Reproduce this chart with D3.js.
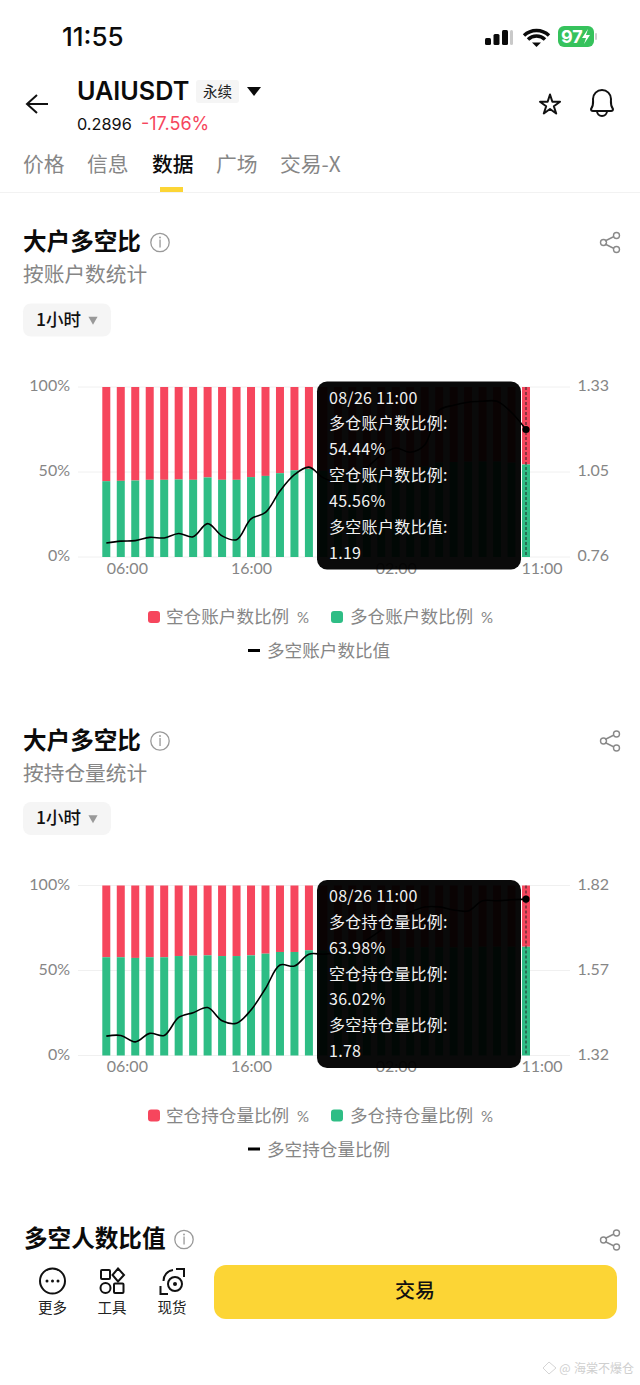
<!DOCTYPE html>
<html>
<head>
<meta charset="utf-8">
<script src="https://cdnjs.cloudflare.com/ajax/libs/d3/7.9.0/d3.min.js"></script>
<style>
html, body { margin: 0; padding: 0; background: #fff; }
svg { display: block; }
text { font-family: "Noto Sans CJK SC", "Noto Sans", sans-serif; }
</style>
</head>
<body>
<svg id="page" width="640" height="1385"></svg>
<script>
// x axis, one bar per hour
var hours = ["06:00","07:00","08:00","09:00","10:00","11:00","12:00","13:00","14:00","15:00",
  "16:00","17:00","18:00","19:00","20:00","21:00","22:00","23:00","00:00","01:00",
  "02:00","03:00","04:00","05:00","06:00 ","07:00 ","08:00 ","09:00 ","10:00 ","11:00 "];
var tickLabels = ["06:00","16:00","02:00","11:00 "];

// chart 1, by accounts
var accountLong = [44.6,44.8,45,45.4,45.4,45.6,45.4,46.8,45.4,45.4,47,47.7,49.3,51,51.9,
  50.7,50.4,50.6,51.6,52.5,53,52.7,53.2,55.6,55.9,56.1,56.2,56.2,55.5,54.44];
var accountRatio = [0.808,0.814,0.816,0.827,0.825,0.84,0.829,0.874,0.832,0.819,0.89,0.912,0.985,1.041,1.066,
  1.03,1.015,1.025,1.065,1.105,1.129,1.115,1.139,1.253,1.27,1.28,1.283,1.283,1.246,1.19];
var accountLegend = ["空仓账户数比例","多仓账户数比例","多空账户数比值"];
var accountTip = ["08/26 11:00","多仓账户数比例:","54.44%","空仓账户数比例:","45.56%","多空账户数比值:","1.19"];

// chart 2, by position size
var positionLong = [57.8,57.8,57.4,57.8,57.8,58.5,58.7,58.9,58.5,58.5,58.9,59.9,60.9,60.9,61.9,
  61.8,61.9,62.1,62.4,62.8,63.2,63.5,63.7,63.7,63.6,63.6,64,64,64,63.98];
var positionRatio = [1.377,1.379,1.36,1.385,1.379,1.432,1.446,1.461,1.422,1.415,1.454,1.517,1.586,1.583,1.618,
  1.618,1.622,1.636,1.66,1.689,1.719,1.742,1.757,1.757,1.748,1.745,1.775,1.775,1.778,1.78];
var positionLegend = ["空仓持仓量比例","多仓持仓量比例","多空持仓量比例"];
var positionTip = ["08/26 11:00","多仓持仓量比例:","63.98%","空仓持仓量比例:","36.02%","多空持仓量比例:","1.78"];

var svg = d3.select("#page");
var red = "#f6465d", green = "#2ebd85", grey = "#868686", ink = "#0b0b0b";

function label(parent, x, y, str, size, fill, weight, anchor) {
  return parent.append("text").attr("x", x).attr("y", y).text(str)
    .attr("font-size", size).attr("fill", fill)
    .attr("font-weight", weight || 400)
    .attr("text-anchor", anchor || "start");
}

function infoIcon(x, y) {
  var g = svg.append("g").attr("transform", "translate(" + x + "," + y + ")");
  g.append("circle").attr("r", 9.2).attr("fill", "none").attr("stroke", "#999").attr("stroke-width", 1.3);
  g.append("rect").attr("x", -0.6).attr("y", -3).attr("width", 1.3).attr("height", 8).attr("fill", "#999");
  g.append("circle").attr("cy", -5).attr("r", 0.9).attr("fill", "#999");
}

function shareIcon(x, y) {
  var g = svg.append("g").attr("transform", "translate(" + x + "," + y + ")")
    .attr("fill", "none").attr("stroke", "#8a8a8a").attr("stroke-width", 1.4);
  g.append("path").attr("d", "M-5,-1.5L4,-6M-5,1.5L4,6");
  g.append("circle").attr("cx", -6.5).attr("r", 3);
  g.append("circle").attr("cx", 6.5).attr("cy", -7).attr("r", 3);
  g.append("circle").attr("cx", 6.5).attr("cy", 7).attr("r", 3);
}

function section(top, sub) {
  label(svg, 23, top + 7.5, "大户多空比", 23.6, ink, 700);
  infoIcon(160, top);
  label(svg, 23, top + 39.5, sub, 20.7, grey);
  shareIcon(610, top);
  svg.append("rect").attr("x", 23).attr("y", top + 61).attr("width", 88).attr("height", 33).attr("rx", 8).attr("fill", "#f5f5f5");
  label(svg, 36, top + 83, "1小时", 17.5, "#111", 500);
  svg.append("path").attr("d", d3.symbol().type(d3.symbolTriangle).size(36)).attr("fill", "#999")
    .attr("transform", "translate(93," + (top + 77) + ") rotate(180)");
}

function drawChart(top, longVals, ratioVals, ratioTicks, legend, tip) {
  var g = svg.append("g").attr("transform", "translate(0," + top + ")");
  var height = 170;
  var x = d3.scalePoint().domain(hours.map(function (d, i) { return i; })).range([106.3, 526]);
  var y = d3.scaleLinear().domain([0, 100]).range([height, 0]);
  var yRatio = d3.scaleLinear().domain(ratioTicks).range([height, height / 2, 0]);
  var barW = 8;

  // grid
  g.selectAll(".grid").data([0, 50, 100]).enter().append("line")
    .attr("x1", 78).attr("x2", 570)
    .attr("y1", function (d) { return y(d); }).attr("y2", function (d) { return y(d); })
    .attr("stroke", "#f0f0f0");

  // bars
  g.selectAll(".short").data(longVals).enter().append("rect")
    .attr("x", function (d, i) { return x(i) - barW / 2; })
    .attr("y", y(100)).attr("width", barW)
    .attr("height", function (d) { return y(d) - y(100); })
    .attr("fill", red);
  g.selectAll(".long").data(longVals).enter().append("rect")
    .attr("x", function (d, i) { return x(i) - barW / 2; })
    .attr("y", function (d) { return y(d); }).attr("width", barW)
    .attr("height", function (d) { return height - y(d); })
    .attr("fill", green);

  // axes
  var left = d3.axisLeft(y).tickValues([0, 50, 100]).tickSize(0).tickPadding(0).tickFormat(function (d) { return d + "%"; });
  var leftG = g.append("g").attr("transform", "translate(70,-1.5)").call(left);
  var right = d3.axisRight(yRatio).tickValues(ratioTicks).tickSize(0).tickPadding(0).tickFormat(d3.format(".2f"));
  var rightG = g.append("g").attr("transform", "translate(577.5,-1.5)").call(right);
  var bottom = d3.axisBottom(x).tickSize(0).tickPadding(0)
    .tickValues(tickLabels.map(function (t) { return hours.indexOf(t); }))
    .tickFormat(function (i) { return hours[i].trim(); });
  var bottomG = g.append("g").attr("transform", "translate(0," + (height + 5.5) + ")").call(bottom);
  [leftG, rightG, bottomG].forEach(function (a) {
    a.select(".domain").remove();
    a.selectAll("text").attr("font-size", 16).attr("fill", grey)
      .style("font-family", "Lato, 'Noto Sans', sans-serif");
  });
  // first and last time labels sit inside the plot edges
  bottomG.selectAll("text").filter(function (d) { return d === 0; }).attr("text-anchor", "start");
  bottomG.selectAll("text").filter(function (d) { return d === 29; }).attr("text-anchor", "start").attr("x", -5);

  // ratio line
  var line = d3.line()
    .x(function (d, i) { return x(i); })
    .y(function (d) { return yRatio(d); })
    .curve(d3.curveCatmullRom.alpha(0.5));
  g.append("path").datum(ratioVals).attr("d", line)
    .attr("fill", "none").attr("stroke", "#000").attr("stroke-width", 1.6);

  // crosshair on last bar
  var lastX = x(ratioVals.length - 1);
  g.append("line").attr("x1", lastX).attr("x2", lastX).attr("y1", 0).attr("y2", height)
    .attr("stroke", "#222").attr("stroke-width", 1).attr("stroke-dasharray", "3,2");
  g.append("circle").attr("cx", lastX).attr("cy", yRatio(ratioVals[ratioVals.length - 1]))
    .attr("r", 3.6).attr("fill", "#000");

  // tooltip
  var t = g.append("g").attr("transform", "translate(317,-5.5)");
  t.append("rect").attr("width", 204).attr("height", 188).attr("rx", 10)
    .attr("fill", "#000").attr("fill-opacity", 0.96);
  tip.forEach(function (s, i) {
    label(t, 12, 22 + i * 25.85, s, 16, "#f2f2f2").style("letter-spacing", "0.3px");
  });

  // legend
  var ly = height + 60;
  g.append("rect").attr("x", 148).attr("y", ly - 6).attr("width", 12).attr("height", 12).attr("rx", 3).attr("fill", red);
  label(g, 166, ly + 6, legend[0], 17.6, grey);
  label(g, 297, ly + 6, "%", 15, grey).style("font-family", "Lato, sans-serif");
  g.append("rect").attr("x", 331).attr("y", ly - 6).attr("width", 12).attr("height", 12).attr("rx", 3).attr("fill", green);
  label(g, 350, ly + 6, legend[1], 17.6, grey);
  label(g, 481, ly + 6, "%", 15, grey).style("font-family", "Lato, sans-serif");
  g.append("rect").attr("x", 248).attr("y", ly + 32).attr("width", 12).attr("height", 3).attr("fill", "#000");
  label(g, 267, ly + 40, legend[2], 17.6, grey);
}

// status bar
label(svg, 62, 46, "11:55", 26, ink, 500).style("font-family", "Inter, sans-serif");
[[485,7],[493.5,11],[502,15]].forEach(function (b) {
  svg.append("rect").attr("x", b[0]).attr("y", 45 - b[1]).attr("width", 6).attr("height", b[1]).attr("rx", 1.5).attr("fill", ink);
});
svg.append("rect").attr("x", 510).attr("y", 30).attr("width", 3).attr("height", 15).attr("rx", 1.5).attr("fill", "#c9c9c9");
svg.append("path").attr("d", "M524,35.5A18,18 0 0 1 549,35.5M528,39.5A12,12 0 0 1 545,39.5")
  .attr("fill", "none").attr("stroke", ink).attr("stroke-width", 3.4);
svg.append("path").attr("d", "M532,42.5L541,42.5L536.5,47Z").attr("fill", ink);
svg.append("rect").attr("x", 558).attr("y", 26).attr("width", 36).attr("height", 21).attr("rx", 6).attr("fill", "#36c25c");
label(svg, 561, 43, "97", 18, "#fff", 700).style("font-family", "Inter, sans-serif");
svg.append("path").attr("d", "M588,29L582,38L586,38L584,44L590,35L586,35Z").attr("fill", "#fff");
svg.append("rect").attr("x", 595).attr("y", 33).attr("width", 2).attr("height", 7).attr("rx", 1).attr("fill", "#cfcfcf");

// header
svg.append("path").attr("d", "M48,104H27M37,95L27,104L37,113").attr("fill", "none").attr("stroke", "#111").attr("stroke-width", 2);
label(svg, 77, 100, "UAIUSDT", 25.2, ink, 600).style("font-family", "Inter, sans-serif");
svg.append("rect").attr("x", 196).attr("y", 80).attr("width", 43).attr("height", 23).attr("rx", 3).attr("fill", "#f5f5f5");
label(svg, 203, 97, "永续", 14.5, "#222");
svg.append("path").attr("d", "M247,87H261L254,96Z").attr("fill", ink);
label(svg, 77, 130, "0.2896", 16.3, "#111").style("font-family", "Inter, sans-serif");
label(svg, 141, 130, "-17.56%", 18, red).style("font-family", "Inter, sans-serif");
svg.append("path").attr("d", d3.symbol().type(d3.symbolStar).size(125)).attr("fill", "none")
  .attr("stroke", "#111").attr("stroke-width", 2).attr("stroke-linejoin", "round").attr("transform", "translate(550,105)");
svg.append("path").attr("d", "M591,109C594,105 593,102 593,99A9,9 0 0 1 611,99C611,102 610,105 613,109C613,111 612,111 611,111H593C592,111 591,111 591,109ZM597,111A5,5 0 0 0 607,111")
  .attr("fill", "none").attr("stroke", "#111").attr("stroke-width", 2);

// tabs
var tabs = ["价格","信息","数据","广场","交易-X"];
var tabX = [23, 87, 152, 216, 280];
tabs.forEach(function (s, i) {
  label(svg, tabX[i], 172, s, 20.8, i === 2 ? ink : grey, i === 2 ? 500 : 400);
});
svg.append("rect").attr("x", 160).attr("y", 187).attr("width", 23).attr("height", 5).attr("fill", "#fcd535");
svg.append("line").attr("x1", 0).attr("x2", 640).attr("y1", 192.5).attr("y2", 192.5).attr("stroke", "#f2f2f2");

// sections
section(242.5, "按账户数统计");
drawChart(387, accountLong, accountRatio, [0.76, 1.05, 1.33], accountLegend, accountTip);
section(741, "按持仓量统计");
drawChart(885.5, positionLong, positionRatio, [1.32, 1.57, 1.82], positionLegend, positionTip);

// third section title
label(svg, 24, 1247, "多空人数比值", 23.6, ink, 700);
infoIcon(184, 1239.5);
shareIcon(610, 1240);

// bottom bar
svg.append("rect").attr("x", 0).attr("y", 1256).attr("width", 640).attr("height", 129).attr("fill", "#fff");
svg.append("circle").attr("cx", 52.5).attr("cy", 1281).attr("r", 12.5).attr("fill", "none").attr("stroke", "#111").attr("stroke-width", 2);
[47, 52.5, 58].forEach(function (cx) {
  svg.append("circle").attr("cx", cx).attr("cy", 1281).attr("r", 1.5).attr("fill", "#111");
});
var tool = svg.append("g").attr("fill", "none").attr("stroke", "#111").attr("stroke-width", 2);
tool.append("rect").attr("x", 101).attr("y", 1270).attr("width", 9).attr("height", 9).attr("rx", 1);
tool.append("path").attr("d", "M118,1268.5L124,1275L118,1281.5L112.5,1275Z");
tool.append("circle").attr("cx", 105.5).attr("cy", 1288).attr("r", 5);
tool.append("rect").attr("x", 114).attr("y", 1283.5).attr("width", 9.5).attr("height", 9.5).attr("rx", 1);
var spot = svg.append("g").attr("fill", "none").attr("stroke", "#111").attr("stroke-width", 2);
spot.append("path").attr("d", "M160.5,1286V1294H168M176,1269H184V1277");
spot.append("circle").attr("cx", 175).attr("cy", 1284).attr("r", 7);
spot.append("path").attr("d", "M163.5,1281A11,11 0 0 1 173,1270");
svg.append("circle").attr("cx", 175).attr("cy", 1284).attr("r", 2).attr("fill", "#111");
label(svg, 52.5, 1313, "更多", 14.5, "#222", 400, "middle");
label(svg, 112, 1313, "工具", 14.5, "#222", 400, "middle");
label(svg, 172, 1313, "现货", 14.5, "#222", 400, "middle");
svg.append("rect").attr("x", 214).attr("y", 1265).attr("width", 403).attr("height", 54).attr("rx", 12).attr("fill", "#fcd535");
label(svg, 415, 1298, "交易", 20, "#111", 500, "middle");

// watermark
label(svg, 634, 1373, "海棠不爆仓", 12, "#cfcfcf", 400, "end");
label(svg, 565, 1373, "@", 12, "#cfcfcf", 400, "middle");
svg.append("path").attr("d", "M549,1362L556,1368L549,1374L543,1368Z").attr("fill", "none").attr("stroke", "#d5d5d5");
</script>
</body>
</html>
